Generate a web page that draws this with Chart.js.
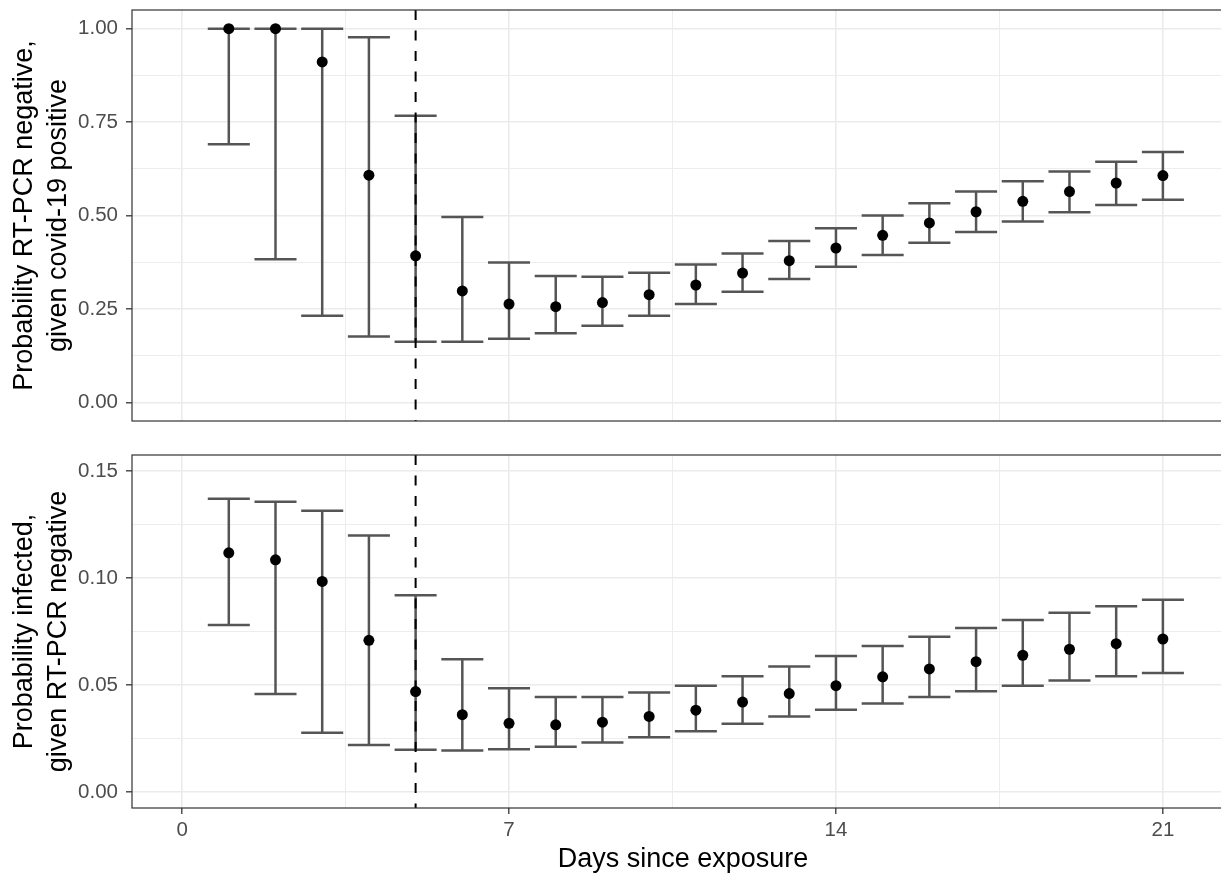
<!DOCTYPE html>
<html>
<head>
<meta charset="utf-8">
<script src="https://cdn.jsdelivr.net/npm/chart.js@4"></script>
<style>
  html, body { margin: 0; padding: 0; background: #fff; overflow: hidden; width: 1221px; height: 875px; }
  canvas { position: absolute; left: 0; }
  #c1 { top: 0; }
  #c2 { top: 440px; }
</style>
</head>
<body>
<canvas id="c1" width="1245" height="440" style="width:1245px;height:440px"></canvas>
<canvas id="c2" width="1245" height="435" style="width:1245px;height:435px"></canvas>
<script>
// ---- data ----
const days = [1,2,3,4,5,6,7,8,9,10,11,12,13,14,15,16,17,18,19,20,21];
const topMid  = [1.000,1.000,0.911,0.608,0.392,0.298,0.263,0.256,0.267,0.288,0.314,0.346,0.379,0.413,0.447,0.480,0.510,0.538,0.564,0.587,0.607];
const topLow  = [0.691,0.383,0.232,0.176,0.162,0.162,0.170,0.185,0.205,0.232,0.263,0.296,0.330,0.363,0.394,0.427,0.456,0.484,0.509,0.528,0.542];
const topHigh = [1.000,1.000,1.000,0.977,0.767,0.496,0.374,0.338,0.336,0.347,0.369,0.398,0.432,0.466,0.500,0.533,0.564,0.592,0.618,0.644,0.670];
const botMid  = [0.1118,0.1085,0.0984,0.0709,0.0469,0.0361,0.0321,0.0314,0.0326,0.0353,0.0382,0.0420,0.0460,0.0497,0.0538,0.0575,0.0609,0.0639,0.0667,0.0693,0.0715];
const botLow  = [0.0780,0.0458,0.0277,0.0219,0.0197,0.0194,0.0200,0.0211,0.0231,0.0256,0.0284,0.0319,0.0353,0.0384,0.0413,0.0444,0.0471,0.0497,0.0521,0.0541,0.0556];
const botHigh = [0.1371,0.1356,0.1314,0.1199,0.0919,0.0620,0.0485,0.0444,0.0444,0.0465,0.0497,0.0541,0.0586,0.0636,0.0682,0.0726,0.0766,0.0804,0.0838,0.0868,0.0898];
const cutoffDay = 5;

const xMajorTicks = [0, 7, 14, 21];
const xTickLabels = ['0', '7', '14', '21'];
const xMinorTicks = [3.5, 10.5, 17.5];
const topYMajor = [0, 0.25, 0.5, 0.75, 1.0];
const topYLabels = ['0.00', '0.25', '0.50', '0.75', '1.00'];
const topYMinor = [0.125, 0.375, 0.625, 0.875];
const botYMajor = [0, 0.05, 0.10, 0.15];
const botYLabels = ['0.00', '0.05', '0.10', '0.15'];
const botYMinor = [0.025, 0.075, 0.125];

const xTitle = 'Days since exposure';
const topYTitle = ['Probability RT-PCR negative,', 'given covid-19 positive'];
const botYTitle = ['Probability infected,', 'given RT-PCR negative'];

// ---- style ----
const CAP = 0.45;
const ERR_COLOR = '#555555';
const GRID_MAJOR = '#EBEBEB';
const GRID_MINOR = '#EDEDED';
const FONT = '"Liberation Sans", Arial, Helvetica, sans-serif';
const TICK_FONT_SIZE = 20.5;
const TITLE_FONT_SIZE = 27;

function errorBarData(low, high) {
  const out = [];
  days.forEach((d, i) => {
    out.push({x: d, y: low[i]}, {x: d, y: high[i]}, {x: d, y: null});
    out.push({x: d - CAP, y: high[i]}, {x: d + CAP, y: high[i]}, {x: d, y: null});
    out.push({x: d - CAP, y: low[i]}, {x: d + CAP, y: low[i]}, {x: d, y: null});
  });
  return out;
}

function tickSetter(major, minor) {
  return function(scale) {
    const all = major.map(v => ({value: v, major: true})).concat(minor.map(v => ({value: v, major: false})));
    all.sort((a, b) => a.value - b.value);
    scale.ticks = all;
  };
}
function isMajor(list, v) { return list.some(m => Math.abs(m - v) < 1e-9); }
function labelFor(list, labels, v) {
  const i = list.findIndex(m => Math.abs(m - v) < 1e-9);
  return i >= 0 ? labels[i] : '';
}

function makeTitlesPlugin(yTitle, withX) {
  return {
    id: 'titles',
    afterDraw(chart) {
      const ctx = chart.ctx;
      const a = chart.chartArea;
      ctx.save();
      ctx.strokeStyle = '#333333';
      ctx.lineWidth = 1.2;
      ctx.strokeRect(a.left, a.top, a.right - a.left, a.bottom - a.top);
      ctx.restore();
      ctx.save();
      ctx.fillStyle = '#000000';
      ctx.font = TITLE_FONT_SIZE + 'px ' + FONT;
      ctx.textAlign = 'center';
      ctx.textBaseline = 'alphabetic';
      ctx.translate(32, (a.top + a.bottom) / 2);
      ctx.rotate(-Math.PI / 2);
      ctx.fillText(yTitle[0], 0, 0);
      ctx.fillText(yTitle[1], 0, 34);
      ctx.restore();
      if (withX) {
        ctx.save();
        ctx.fillStyle = '#000000';
        ctx.font = TITLE_FONT_SIZE + 'px ' + FONT;
        ctx.textAlign = 'center';
        ctx.textBaseline = 'alphabetic';
        ctx.fillText(xTitle, (a.left + a.right) / 2, 427);
        ctx.restore();
      }
    }
  };
}

function makeChart(canvasId, mid, low, high, yMin, yMax, yMajor, yLabels, yMinor, yTitle, bottom) {
  const ctx = document.getElementById(canvasId).getContext('2d');
  return new Chart(ctx, {
    type: 'line',
    data: {
      datasets: [
        {
          label: 'estimate',
          data: days.map((d, i) => ({x: d, y: mid[i]})),
          showLine: false,
          pointRadius: 5.5,
          pointBackgroundColor: '#000000',
          pointBorderColor: '#000000',
          pointBorderWidth: 0,
          order: 0
        },
        {
          label: 'cutoff',
          data: [{x: cutoffDay, y: yMax}, {x: cutoffDay, y: yMin}],
          borderColor: '#000000',
          borderWidth: 2,
          borderDash: [10, 10.5],
          borderDashOffset: 0,
          pointRadius: 0,
          order: 1
        },
        {
          label: 'interval',
          data: errorBarData(low, high),
          borderColor: ERR_COLOR,
          borderWidth: 2.5,
          borderCapStyle: 'butt',
          pointRadius: 0,
          spanGaps: false,
          order: 2
        }
      ]
    },
    options: {
      responsive: false,
      animation: false,
      devicePixelRatio: 1,
      layout: { autoPadding: false, padding: bottom ? {top: 15, right: 11, bottom: 0, left: 0} : {top: 10, right: 11, bottom: 19, left: 0} },
      plugins: { legend: { display: false }, tooltip: { enabled: false } },
      scales: {
        x: {
          type: 'linear',
          min: -1.0725,
          max: 22.5225,
          afterBuildTicks: tickSetter(xMajorTicks, xMinorTicks),
          afterFit: s => { s.height = bottom ? 67 : 0; s.paddingLeft = 0; s.paddingRight = 0; },
          border: { display: false },
          grid: {
            color: c => isMajor(xMajorTicks, c.tick.value) ? GRID_MAJOR : GRID_MINOR,
            lineWidth: c => isMajor(xMajorTicks, c.tick.value) ? 1.6 : 1.0,
            drawTicks: bottom,
            tickLength: 6,
            tickWidth: 1.3,
            tickColor: c => (c.tick && isMajor(xMajorTicks, c.tick.value)) ? '#333333' : 'rgba(0,0,0,0)'
          },
          ticks: {
            display: bottom,
            autoSkip: false,
            maxRotation: 0,
            padding: 4,
            color: '#4D4D4D',
            font: { family: FONT, size: TICK_FONT_SIZE },
            callback: v => labelFor(xMajorTicks, xTickLabels, v)
          }
        },
        y: {
          type: 'linear',
          min: yMin,
          max: yMax,
          afterBuildTicks: tickSetter(yMajor, yMinor),
          afterFit: s => { s.width = 132; s.paddingTop = 0; s.paddingBottom = 0; },
          border: { display: false },
          grid: {
            color: c => isMajor(yMajor, c.tick.value) ? GRID_MAJOR : GRID_MINOR,
            lineWidth: c => isMajor(yMajor, c.tick.value) ? 1.6 : 1.0,
            drawTicks: true,
            tickLength: 6,
            tickWidth: 1.3,
            tickColor: c => (c.tick && isMajor(yMajor, c.tick.value)) ? '#333333' : 'rgba(0,0,0,0)'
          },
          ticks: {
            autoSkip: false,
            padding: 8,
            color: '#4D4D4D',
            font: { family: FONT, size: TICK_FONT_SIZE },
            callback: v => labelFor(yMajor, yLabels, v)
          }
        }
      }
    },
    plugins: [makeTitlesPlugin(yTitle, bottom)]
  });
}

makeChart('c1', topMid, topLow, topHigh, -0.05, 1.05, topYMajor, topYLabels, topYMinor, topYTitle, false);
makeChart('c2', botMid, botLow, botHigh, -0.0075, 0.1575, botYMajor, botYLabels, botYMinor, botYTitle, true);
</script>
</body>
</html>
